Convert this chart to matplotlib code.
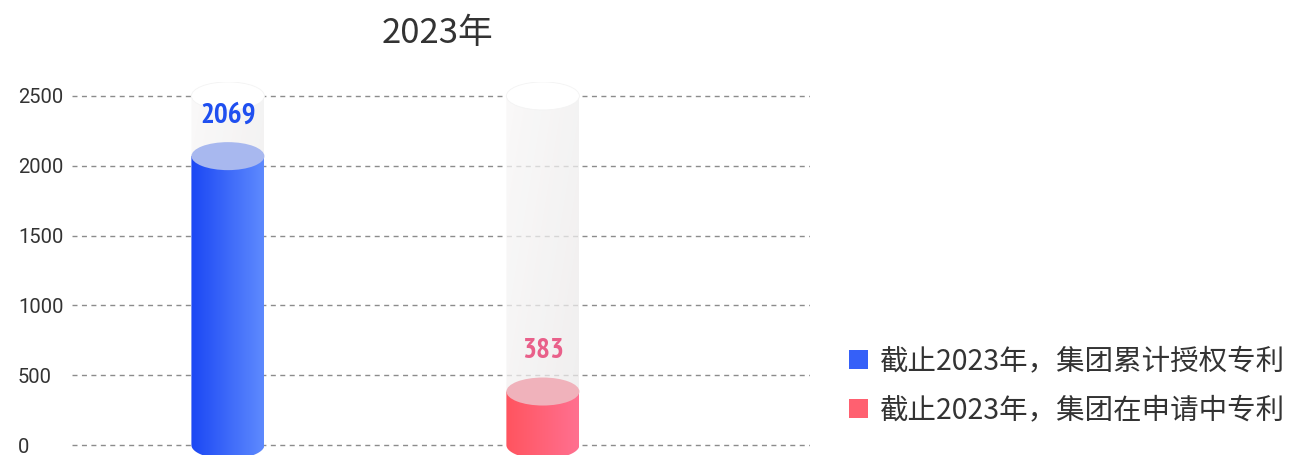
import numpy as np
import matplotlib.pyplot as plt
from matplotlib import font_manager
from matplotlib.colors import LinearSegmentedColormap, to_rgb
from matplotlib.patches import Ellipse, PathPatch, Rectangle
from matplotlib.path import Path

plt.rcParams['font.family'] = ['Noto Sans CJK SC', 'DejaVu Sans']

# data
title = "2023年"
series_names = ["截止2023年，集团累计授权专利", "截止2023年，集团在申请中专利"]
values = [2069, 383]
y_max = 2500
y_ticks = [0, 500, 1000, 1500, 2000, 2500]

# style
bar_colors = [("#1b47f4", "#5e8afe"), ("#ff545f", "#ff7090")]
top_colors = ["#a8b8ef", "#f0b2bb"]
label_colors = ["#1f4ff0", "#e9608a"]
legend_colors = ["#3560f8", "#ff6070"]
text_color = "#333333"

# narrow bold font for the value labels, if one is installed
narrow = [f.fname for f in font_manager.fontManager.ttflist
          if 'narrow' in f.fname.lower() and 'bold' in f.fname.lower()
          and 'italic' not in f.fname.lower()]
if narrow:
    num_font = dict(fontproperties=font_manager.FontProperties(fname=narrow[0], size=21))
else:
    num_font = dict(family='DejaVu Sans', stretch='condensed', fontsize=18,
                    fontweight='bold')

fig = plt.figure(figsize=(12.93, 4.55), dpi=100)
ax = fig.add_axes([72 / 1293, 0, 738 / 1293, 373 / 455])
ax.set_xlim(-0.495, 1.848)
ax.set_ylim(-71.6, 2600)

bw = 73 / 315          # bar width in data units
eh = 28 * 2500 / 349   # ellipse height in data units


def body_path(x, top):
    """Rectangle from 0 to top with a rounded (half-ellipse) bottom."""
    a, b = bw / 2, eh / 2
    t = np.linspace(0, -np.pi, 80)
    verts = [(x - a, top), (x + a, top)]
    verts += list(zip(x + a * np.cos(t), b * np.sin(t)))
    verts.append((x - a, top))
    return Path(verts, closed=True)


def gradient_body(x, top, img, z, alpha=1.0):
    patch = PathPatch(body_path(x, top), facecolor='none', edgecolor='none',
                      transform=ax.transData)
    ax.add_patch(patch)
    im = ax.imshow(img, extent=(x - bw / 2, x + bw / 2, -eh / 2, top),
                   aspect='auto', origin='lower', zorder=z, alpha=alpha,
                   interpolation='bilinear')
    im.set_clip_path(patch)


# grid
for t in y_ticks:
    ax.axhline(t, color="#8c8c8c", lw=1, ls=(0, (3.6, 3.2)), zorder=1)

xs = np.arange(len(values))
for i, (x, v) in enumerate(zip(xs, values)):
    # background cylinder (light, slightly see-through)
    gx = np.linspace(0, 1, 64)
    gy = np.linspace(0, 1, 64)
    GX, GY = np.meshgrid(gx, gy)
    k = np.clip(0.55 * GX + 0.45 * (1 - GY), 0, 1)[..., None]
    c0, c1 = np.array(to_rgb("#f8f7f7")), np.array(to_rgb("#ebe9e9"))
    bg = c0 * (1 - k) + c1 * k
    gradient_body(x, y_max, bg, 2, alpha=0.75)
    ax.add_patch(Ellipse((x, y_max), bw, eh, facecolor="#ffffff",
                         edgecolor="#f3f3f3", lw=0.6, zorder=3))

    # value cylinder
    cmap = LinearSegmentedColormap.from_list("c%d" % i, bar_colors[i])
    grad = cmap(np.linspace(0, 1, 128))[None, :, :3]
    gradient_body(x, v, grad, 4)
    ax.add_patch(Ellipse((x, v), bw, eh, facecolor=top_colors[i],
                         edgecolor='none', zorder=5))

    ax.annotate(str(v), (x, v), xytext=(0, 29), textcoords='offset points',
                ha='center', va='center', color=label_colors[i], zorder=6,
                **num_font)

# axes
for s in ax.spines.values():
    s.set_visible(False)
ax.set_xticks([])
ax.set_yticks(y_ticks)
ax.set_yticklabels([str(t) for t in y_ticks], ha='left', color=text_color,
                   fontsize=14.5, family=['Roboto', 'DejaVu Sans'])
ax.tick_params(axis='y', length=0, pad=39)

fig.text(438 / 1293, 1 - 34 / 455, title, ha='center', va='center',
         fontsize=25, color=text_color)

handles = [Rectangle((0, 0), 1, 1, facecolor=c, edgecolor='none')
           for c in legend_colors]
fig.legend(handles, series_names, loc='center left',
           bbox_to_anchor=(849 / 1293, 1 - 386 / 455), frameon=False,
           fontsize=20.5, labelcolor=text_color, handlelength=0.66,
           handleheight=0.62, handletextpad=0.42, labelspacing=0.66,
           borderpad=0, borderaxespad=0)

fig.savefig("out.png", dpi=100)
